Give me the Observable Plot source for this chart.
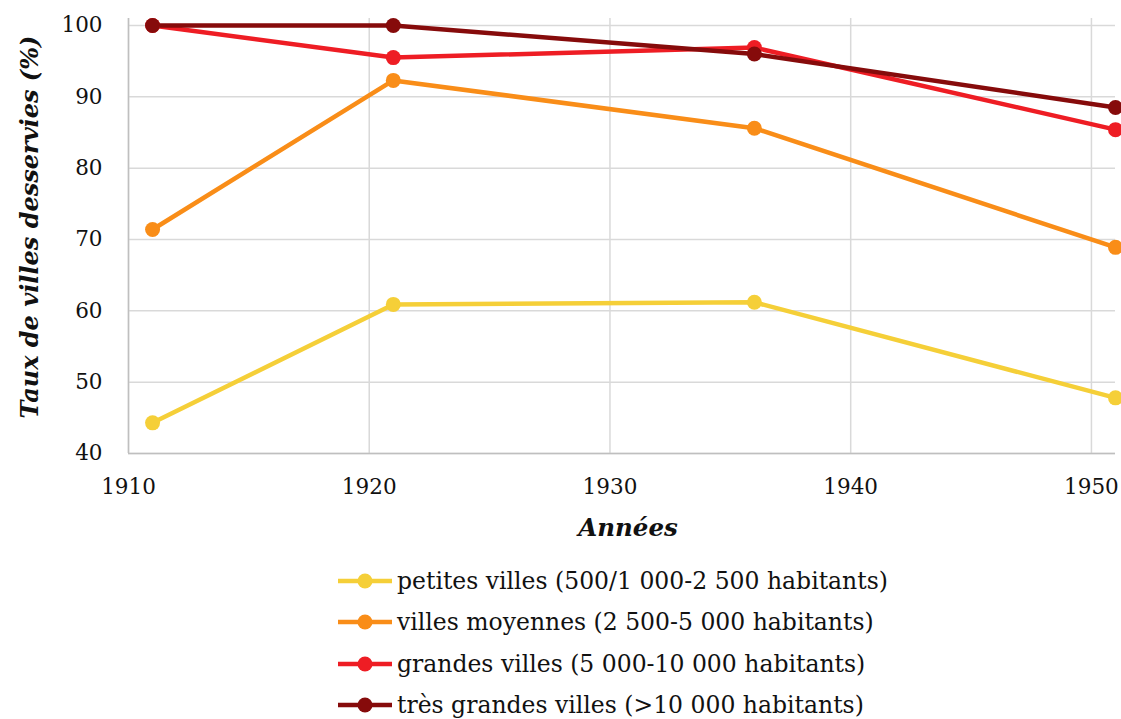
<!DOCTYPE html>
<html>
<head>
<meta charset="utf-8">
<script src="https://cdn.jsdelivr.net/npm/d3@7"></script>
<script src="https://cdn.jsdelivr.net/npm/@observablehq/plot@0.6"></script>
<style>
  html, body { margin: 0; padding: 0; background: #fff; }
  body { width: 1121px; font-family: "DejaVu Serif", serif; }
  #legend { margin-left: 337px; }
  .row { height: 41.5px; display: flex; align-items: center; font-size: 23.5px; color: #111; white-space: nowrap; }
  .row svg { margin-right: 4px; }
</style>
</head>
<body>
<div id="chart"></div>
<div id="legend"></div>
<script>
const years = [1911, 1921, 1936, 1951];
const seriesNames = [
  "petites villes (500/1 000-2 500 habitants)",
  "villes moyennes (2 500-5 000 habitants)",
  "grandes villes (5 000-10 000 habitants)",
  "très grandes villes (>10 000 habitants)"
];
const petites = [44.3, 60.9, 61.2, 47.8];
const moyennes = [71.4, 92.3, 85.6, 68.9];
const grandes = [100, 95.5, 96.9, 85.4];
const tresGrandes = [100, 100, 96.0, 88.5];
const colors = ["#F5CF38", "#F98D18", "#EE1D24", "#860B0B"];
const xTicks = [1910, 1920, 1930, 1940, 1950];
const yTicks = [40, 50, 60, 70, 80, 90, 100];
const yLabel = "Taux de villes desservies (%)";
const xLabel = "Années";

const allValues = [petites, moyennes, grandes, tresGrandes];
const data = [];
allValues.forEach((vals, i) => {
  vals.forEach((v, j) => data.push({year: years[j], value: v, series: seriesNames[i]}));
});

const font = "DejaVu Serif, serif";
const chart = Plot.plot({
  width: 1121,
  height: 560,
  marginLeft: 128,
  marginRight: 6,
  marginTop: 18,
  insetTop: 7,
  marginBottom: 107,
  style: {fontFamily: font, fontSize: "21px", color: "#111", background: "#fff"},
  x: {domain: [1910, 1951]},
  y: {domain: [40, 100]},
  color: {domain: seriesNames, range: colors},
  marks: [
    Plot.gridX(xTicks, {stroke: "#d9d9d9", strokeOpacity: 1, strokeWidth: 1.5}),
    Plot.gridY(yTicks, {stroke: "#d9d9d9", strokeOpacity: 1, strokeWidth: 1.5}),
    Plot.ruleX([1910], {stroke: "#bfbfbf", strokeWidth: 1.5}),
    Plot.ruleY([40], {stroke: "#bfbfbf", strokeWidth: 1.5}),
    Plot.axisX(xTicks, {tickSize: 0, tickPadding: 25, tickFormat: d => String(d), label: null, fontSize: 21.5}),
    Plot.axisY(yTicks, {tickSize: 0, tickPadding: 26, label: null, fontSize: 21.5}),
    Plot.line(data, {x: "year", y: "value", z: "series", stroke: "series", strokeWidth: 4.5}),
    Plot.dot(data, {x: "year", y: "value", fill: "series", r: 7.5}),
    Plot.text([yLabel], {frameAnchor: "left", textAnchor: "middle", dx: -98, dy: -9, rotate: -90, fontSize: 24, fontWeight: "bold", fontStyle: "italic", fill: "#111"}),
    Plot.text([xLabel], {frameAnchor: "bottom", dx: 6, dy: 82, fontSize: 24.5, fontWeight: "bold", fontStyle: "italic", fill: "#111"})
  ]
});
document.getElementById("chart").appendChild(chart);

const legend = document.getElementById("legend");
seriesNames.forEach((name, i) => {
  const row = document.createElement("div");
  row.className = "row";
  row.innerHTML = `<svg width="56" height="20"><line x1="1" y1="10" x2="55" y2="10" stroke="${colors[i]}" stroke-width="4.5"/><circle cx="28" cy="10" r="7.5" fill="${colors[i]}"/></svg><span>${name}</span>`;
  legend.appendChild(row);
});
</script>
</body>
</html>
